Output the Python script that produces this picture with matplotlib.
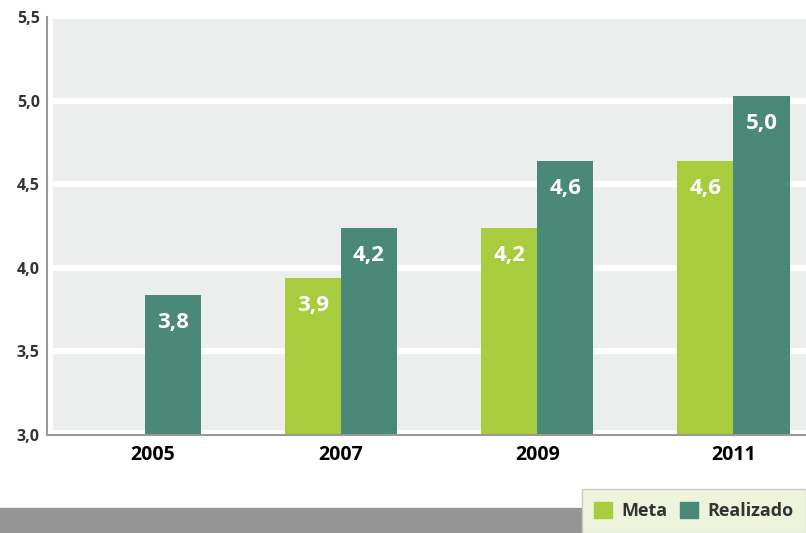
import numpy as np
import matplotlib.pyplot as plt
from matplotlib.patches import Rectangle, Patch

anos = ['2005', '2007', '2009', '2011']
meta = [None, 3.94, 4.24, 4.64]
realizado = [3.84, 4.24, 4.64, 5.03]
yticks = [3.0, 3.5, 4.0, 4.5, 5.0, 5.5]

cor_meta = '#a7cc3e'
cor_real = '#4a8878'
cor_fundo = '#eceeee'

plt.rcParams['font.family'] = ['Open Sans', 'DejaVu Sans']

fig = plt.figure(figsize=(8.06, 5.33), dpi=100)
ax = fig.add_axes([0.058, 0.184, 0.942, 0.784])

x = np.arange(len(anos))
w = 0.286

# fundo cinza levemente separado dos eixos
ax.add_patch(Rectangle((0.008, 0.012), 1.0, 0.983, transform=ax.transAxes,
                       color=cor_fundo, zorder=0, lw=0))
for v in yticks[1:-1]:
    ax.axhline(v, xmin=0.008, color='white', lw=4.5, zorder=1)

for i in range(len(anos)):
    if meta[i] is not None:
        ax.bar(x[i] - w / 2, meta[i] - 3.0, w, bottom=3.0, color=cor_meta, zorder=2)
        ax.annotate(f"{meta[i]:.1f}".replace('.', ','), (x[i] - w / 2, meta[i]),
                    xytext=(0, -20), textcoords='offset points', ha='center', va='center',
                    color='white', fontsize=16, fontweight='bold', zorder=3)
    ax.bar(x[i] + w / 2, realizado[i] - 3.0, w, bottom=3.0, color=cor_real, zorder=2)
    ax.annotate(f"{realizado[i]:.1f}".replace('.', ','), (x[i] + w / 2, realizado[i]),
                xytext=(0, -20), textcoords='offset points', ha='center', va='center',
                color='white', fontsize=16, fontweight='bold', zorder=3)

ax.set_xlim(-0.5, 3.37)
ax.set_ylim(3.0, 5.5)
ax.set_facecolor('white')
ax.set_yticks(yticks)
ax.set_yticklabels([f"{v:.1f}".replace('.', ',') for v in yticks],
                   fontsize=11.5, fontweight='bold', color='#333333')
ax.set_xticks(x + np.array([0.04, 0.0, 0.0, 0.0]))
ax.set_xticklabels(anos, fontsize=14, fontweight='bold', color='black')
ax.tick_params(axis='both', length=0)
ax.tick_params(axis='x', pad=7)
ax.tick_params(axis='y', pad=5)
for s in ['top', 'right']:
    ax.spines[s].set_visible(False)
for s in ['left', 'bottom']:
    ax.spines[s].set_color('#999999')
    ax.spines[s].set_linewidth(1.5)

# faixa cinza inferior
fig.patches.append(Rectangle((0, 0), 0.725, 0.047, transform=fig.transFigure,
                             color='#959595', zorder=0))

handles = [Patch(color=cor_meta, label='Meta'), Patch(color=cor_real, label='Realizado')]
leg = fig.legend(handles=handles, loc='lower right', bbox_to_anchor=(1.0, 0.0), ncol=2,
                 frameon=True, fancybox=False, borderaxespad=0, handlelength=1.0,
                 handleheight=1.0, handletextpad=0.5, columnspacing=0.7, borderpad=0.7,
                 prop={'size': 13, 'weight': 'bold'})
leg.get_frame().set_facecolor('#eef3dc')
leg.get_frame().set_edgecolor('#c9cdbf')
leg.get_frame().set_alpha(1)
for t in leg.get_texts():
    t.set_color('#333333')

fig.savefig('out.png', dpi=100)
